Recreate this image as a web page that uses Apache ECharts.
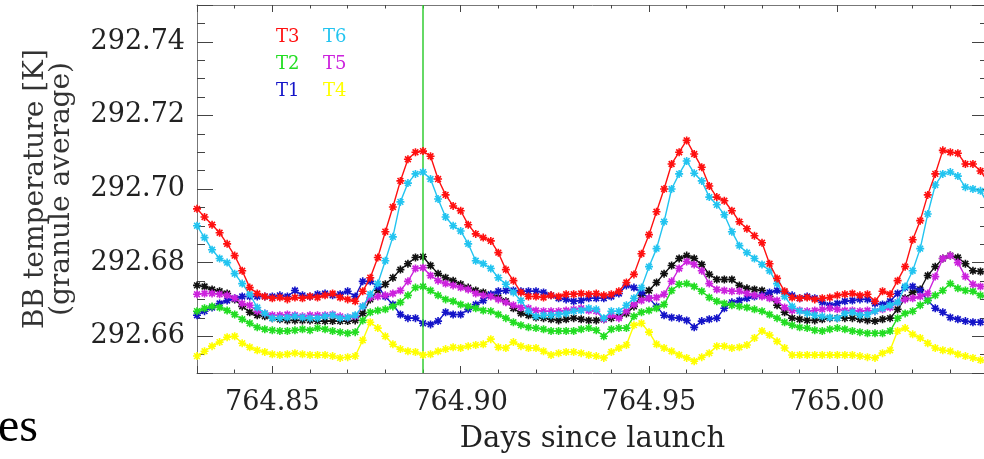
<!DOCTYPE html>
<html>
<head>
<meta charset="utf-8">
<script src="https://cdn.jsdelivr.net/npm/echarts@6/dist/echarts.min.js"></script>
<style>
html,body{margin:0;padding:0;background:#fff;overflow:hidden;}
#chart{width:992px;height:459px;}
</style>
</head>
<body>
<div id="chart"></div>
<script>
// ---- data ----
const days = [764.830,764.832,764.834,764.836,764.838,764.840,764.842,764.844,764.846,764.848,
764.850,764.852,764.854,764.856,764.858,764.860,764.862,764.864,764.866,764.868,
764.870,764.872,764.874,764.876,764.878,764.880,764.882,764.884,764.886,764.888,
764.890,764.892,764.894,764.896,764.898,764.900,764.902,764.904,764.906,764.908,
764.910,764.912,764.914,764.916,764.918,764.920,764.922,764.924,764.926,764.928,
764.930,764.932,764.934,764.936,764.938,764.940,764.942,764.944,764.946,764.948,
764.950,764.952,764.954,764.956,764.958,764.960,764.962,764.964,764.966,764.968,
764.970,764.972,764.974,764.976,764.978,764.980,764.982,764.984,764.986,764.988,
764.990,764.992,764.994,764.996,764.998,765.000,765.002,765.004,765.006,765.008,
765.010,765.012,765.014,765.016,765.018,765.020,765.022,765.024,765.026,765.028,
765.030,765.032,765.034,765.036,765.038,765.040];

const t3 = [292.6946,292.6924,292.6903,292.6881,292.6851,292.6819,292.6778,292.6732,292.6716,292.6708,
292.6703,292.6705,292.6700,292.6705,292.6703,292.6708,292.6705,292.6711,292.6716,292.6705,
292.6700,292.6695,292.6722,292.6759,292.6814,292.6884,292.6951,292.7022,292.7081,292.7100,
292.7103,292.7089,292.7027,292.6984,292.6954,292.6941,292.6903,292.6878,292.6868,292.6859,
292.6827,292.6781,292.6751,292.6719,292.6708,292.6708,292.6705,292.6711,292.6708,292.6714,
292.6714,292.6716,292.6714,292.6716,292.6711,292.6714,292.6722,292.6746,292.6768,292.6824,
292.6876,292.6938,292.7000,292.7068,292.7100,292.7132,292.7095,292.7059,292.7008,292.6978,
292.6968,292.6941,292.6911,292.6892,292.6873,292.6854,292.6797,292.6757,292.6722,292.6705,
292.6703,292.6705,292.6700,292.6703,292.6705,292.6711,292.6714,292.6716,292.6711,292.6714,
292.6695,292.6722,292.6714,292.6751,292.6789,292.6862,292.6914,292.6984,292.7041,292.7105,
292.7100,292.7097,292.7068,292.7068,292.7049,292.7019];

const t6 = [292.6900,292.6868,292.6835,292.6811,292.6800,292.6770,292.6743,292.6714,292.6678,292.6662,
292.6649,292.6649,292.6651,292.6654,292.6651,292.6649,292.6649,292.6654,292.6657,292.6649,
292.6651,292.6657,292.6681,292.6714,292.6743,292.6805,292.6870,292.6965,292.7016,292.7041,
292.7046,292.7027,292.6973,292.6924,292.6900,292.6886,292.6851,292.6805,292.6797,292.6784,
292.6759,292.6741,292.6719,292.6697,292.6668,292.6654,292.6657,292.6657,292.6659,292.6662,
292.6668,292.6670,292.6676,292.6673,292.6649,292.6668,292.6668,292.6684,292.6703,292.6732,
292.6789,292.6838,292.6911,292.7000,292.7041,292.7076,292.7043,292.7022,292.6978,292.6957,
292.6930,292.6884,292.6846,292.6827,292.6811,292.6795,292.6778,292.6743,292.6708,292.6681,
292.6668,292.6662,292.6657,292.6654,292.6651,292.6649,292.6662,292.6665,292.6657,292.6659,
292.6668,292.6676,292.6684,292.6692,292.6735,292.6778,292.6838,292.6932,292.7011,292.7041,
292.7046,292.7035,292.7005,292.7000,292.6995,292.6959];

const tAvg = [292.6738,292.6735,292.6727,292.6722,292.6716,292.6700,292.6681,292.6665,292.6657,292.6654,
292.6649,292.6646,292.6643,292.6643,292.6643,292.6643,292.6641,292.6641,292.6641,292.6641,
292.6641,292.6643,292.6662,292.6700,292.6724,292.6741,292.6759,292.6781,292.6797,292.6814,
292.6816,292.6792,292.6770,292.6759,292.6751,292.6741,292.6732,292.6724,292.6719,292.6711,
292.6705,292.6695,292.6676,292.6662,292.6657,292.6651,292.6649,292.6646,292.6643,292.6646,
292.6649,292.6646,292.6643,292.6643,292.6646,292.6649,292.6654,292.6662,292.6681,292.6711,
292.6724,292.6746,292.6770,292.6792,292.6811,292.6819,292.6811,292.6795,292.6768,292.6754,
292.6754,292.6754,292.6738,292.6730,292.6727,292.6724,292.6708,292.6684,292.6665,292.6649,
292.6646,292.6643,292.6643,292.6646,292.6649,292.6649,292.6649,292.6649,292.6646,292.6643,
292.6641,292.6646,292.6649,292.6673,292.6703,292.6719,292.6727,292.6765,292.6789,292.6811,
292.6819,292.6814,292.6797,292.6778,292.6776,292.6773];

const t5 = [292.6714,292.6716,292.6716,292.6714,292.6711,292.6703,292.6689,292.6684,292.6668,292.6662,
292.6657,292.6657,292.6659,292.6657,292.6654,292.6657,292.6657,292.6657,292.6659,292.6654,
292.6651,292.6654,292.6681,292.6705,292.6708,292.6711,292.6716,292.6724,292.6749,292.6784,
292.6786,292.6765,292.6751,292.6743,292.6738,292.6732,292.6727,292.6716,292.6711,292.6708,
292.6700,292.6692,292.6684,292.6678,292.6676,292.6670,292.6668,292.6668,292.6668,292.6670,
292.6673,292.6676,292.6670,292.6668,292.6646,292.6657,292.6649,292.6668,292.6686,292.6697,
292.6703,292.6705,292.6714,292.6749,292.6784,292.6803,292.6795,292.6778,292.6743,292.6727,
292.6724,292.6722,292.6722,292.6716,292.6711,292.6708,292.6703,292.6697,292.6678,292.6670,
292.6670,292.6668,292.6670,292.6673,292.6676,292.6673,292.6670,292.6670,292.6668,292.6670,
292.6668,292.6673,292.6678,292.6692,292.6700,292.6703,292.6708,292.6716,292.6762,292.6811,
292.6819,292.6800,292.6762,292.6741,292.6735,292.6735];

const t2 = [292.6668,292.6676,292.6681,292.6678,292.6670,292.6659,292.6646,292.6635,292.6624,292.6619,
292.6616,292.6614,292.6614,292.6616,292.6619,292.6616,292.6622,292.6619,292.6614,292.6611,
292.6608,292.6611,292.6643,292.6665,292.6670,292.6673,292.6681,292.6692,292.6711,292.6732,
292.6735,292.6724,292.6711,292.6700,292.6695,292.6686,292.6681,292.6676,292.6670,292.6668,
292.6659,292.6649,292.6638,292.6630,292.6624,292.6622,292.6619,292.6614,292.6614,292.6614,
292.6614,292.6619,292.6622,292.6616,292.6600,292.6619,292.6622,292.6622,292.6654,292.6665,
292.6670,292.6676,292.6686,292.6724,292.6741,292.6743,292.6735,292.6722,292.6705,292.6695,
292.6689,292.6684,292.6681,292.6678,292.6673,292.6668,292.6659,292.6649,292.6638,292.6630,
292.6624,292.6622,292.6616,292.6614,292.6619,292.6622,292.6619,292.6614,292.6611,292.6608,
292.6608,292.6608,292.6614,292.6649,292.6662,292.6668,292.6684,292.6697,292.6711,292.6724,
292.6743,292.6730,292.6724,292.6722,292.6711,292.6705];

const t1 = [292.6657,292.6668,292.6678,292.6689,292.6697,292.6703,292.6708,292.6708,292.6708,292.6708,
292.6708,292.6711,292.6708,292.6724,292.6711,292.6708,292.6714,292.6716,292.6711,292.6714,
292.6722,292.6708,292.6749,292.6749,292.6735,292.6708,292.6686,292.6659,292.6649,292.6649,
292.6635,292.6632,292.6641,292.6665,292.6659,292.6659,292.6673,292.6686,292.6697,292.6714,
292.6722,292.6724,292.6724,292.6722,292.6722,292.6722,292.6719,292.6711,292.6703,292.6700,
292.6695,292.6697,292.6703,292.6703,292.6703,292.6708,292.6716,292.6738,292.6732,292.6719,
292.6703,292.6681,292.6657,292.6651,292.6649,292.6643,292.6624,292.6641,292.6646,292.6649,
292.6676,292.6692,292.6697,292.6703,292.6708,292.6711,292.6719,292.6724,292.6719,292.6711,
292.6703,292.6708,292.6703,292.6692,292.6684,292.6689,292.6695,292.6697,292.6700,292.6700,
292.6689,292.6686,292.6695,292.6716,292.6732,292.6735,292.6724,292.6697,292.6676,292.6665,
292.6651,292.6646,292.6641,292.6638,292.6638,292.6638];

const t4 = [292.6546,292.6559,292.6573,292.6584,292.6597,292.6600,292.6581,292.6570,292.6562,292.6557,
292.6551,292.6549,292.6551,292.6554,292.6551,292.6549,292.6549,292.6549,292.6546,292.6541,
292.6543,292.6546,292.6589,292.6638,292.6622,292.6600,292.6578,292.6565,292.6559,292.6557,
292.6549,292.6551,292.6559,292.6565,292.6570,292.6568,292.6573,292.6576,292.6578,292.6592,
292.6570,292.6568,292.6584,292.6573,292.6568,292.6568,292.6559,292.6549,292.6554,292.6557,
292.6557,292.6554,292.6549,292.6546,292.6541,292.6557,292.6568,292.6576,292.6630,292.6635,
292.6611,292.6578,292.6568,292.6559,292.6549,292.6541,292.6532,292.6543,292.6554,292.6573,
292.6573,292.6568,292.6570,292.6576,292.6595,292.6614,292.6603,292.6586,292.6568,292.6549,
292.6549,292.6549,292.6549,292.6549,292.6549,292.6549,292.6549,292.6549,292.6546,292.6543,
292.6541,292.6554,292.6562,292.6614,292.6622,292.6605,292.6595,292.6581,292.6568,292.6562,
292.6559,292.6551,292.6546,292.6541,292.6535,292.6530];

const markerDay = 764.8894;
const xMin = 764.83, xMax = 765.04;
const yMin = 292.65, yMax = 292.75;

const legendCol1 = ['T3', 'T2', 'T1'];
const legendCol2 = ['T6', 'T5', 'T4'];
const seriesDefs = [
  {name: 'avg', values: tAvg, color: '#111111'},
  {name: 'T1', values: t1, color: '#1414c8'},
  {name: 'T2', values: t2, color: '#22dd22'},
  {name: 'T4', values: t4, color: '#ffff00'},
  {name: 'T5', values: t5, color: '#cc22dd'},
  {name: 'T6', values: t6, color: '#22c4f0'},
  {name: 'T3', values: t3, color: '#ff1010'}
];
// ---- chart ----
const colorOf = {};
seriesDefs.forEach(s => colorOf[s.name] = s.color);
const serif = '"DejaVu Serif", "Liberation Serif", serif';
const star = 'path://M5 0V10M0 5H10M1.4 1.4L8.6 8.6M8.6 1.4L1.4 8.6';

function xAxisCfg(pos, showLabel) {
  return {
    type: 'value', position: pos, min: xMin, max: xMax, splitNumber: 4,
    splitLine: {show: false},
    axisLine: {show: true, onZero: false, lineStyle: {color: '#777', width: 1}},
    axisTick: {show: true, inside: true, length: 7, lineStyle: {color: '#444'}},
    minorTick: {show: true, splitNumber: 5, length: 3.5, lineStyle: {color: '#444'}},
    axisLabel: {show: showLabel, formatter: v => v.toFixed(2), showMinLabel: false, showMaxLabel: false,
      fontFamily: serif, fontSize: 27, color: '#222', margin: 16},
    name: showLabel ? 'Days since launch' : '',
    nameLocation: 'middle', nameGap: 52,
    nameTextStyle: {fontFamily: serif, fontSize: 29, color: '#222'}
  };
}
function yAxisCfg(pos, showLabel) {
  return {
    type: 'value', position: pos, min: yMin, max: yMax, splitNumber: 5,
    splitLine: {show: false},
    axisLine: {show: true, onZero: false, lineStyle: {color: '#777', width: 1}},
    axisTick: {show: true, inside: true, length: 16, lineStyle: {color: '#444'}},
    minorTick: {show: true, splitNumber: 4, length: 8, lineStyle: {color: '#444'}},
    axisLabel: {show: showLabel, formatter: v => v.toFixed(2), showMinLabel: false, showMaxLabel: false,
      fontFamily: serif, fontSize: 27, color: '#222', margin: 12},
    name: showLabel ? 'BB temperature [K]\n(granule average)' : '',
    nameLocation: 'middle', nameRotate: 90, nameGap: 122,
    nameTextStyle: {fontFamily: serif, fontSize: 28, lineHeight: 26, color: '#333', align: 'center'}
  };
}
function legendCfg(names, left) {
  return {
    show: true, orient: 'vertical', left: left, top: 28, padding: 0,
    icon: 'none', itemWidth: 1, itemHeight: 18, itemGap: 9, selectedMode: false,
    textStyle: {fontFamily: serif, fontSize: 18, lineHeight: 18},
    data: names.map(n => ({name: n, textStyle: {color: colorOf[n]}}))
  };
}

const series = seriesDefs.map((s, k) => ({
  name: s.name, type: 'line',
  data: days.map((d, i) => [d, s.values[i]]),
  symbol: star, symbolSize: 8, showSymbol: true,
  lineStyle: {color: s.color, width: 1.4},
  itemStyle: {color: s.color, borderColor: s.color, borderWidth: 1.6},
  emphasis: {disabled: true}, silent: true, z: 2 + k,
  markLine: k === 0 ? {
    silent: true, symbol: ['none', 'none'], label: {show: false},
    lineStyle: {color: '#33cc33', width: 1.5, type: 'solid'},
    emphasis: {disabled: true},
    data: [{xAxis: markerDay}]
  } : undefined
}));

const chart = echarts.init(document.getElementById('chart'), null, {renderer: 'canvas'});
chart.setOption({
  animation: false,
  backgroundColor: '#fff',
  grid: {left: 197, top: 5, right: 4, bottom: 84, containLabel: false},
  xAxis: [xAxisCfg('bottom', true), xAxisCfg('top', false)],
  yAxis: [yAxisCfg('left', true), yAxisCfg('right', false)],
  legend: [legendCfg(legendCol1, 270), legendCfg(legendCol2, 317)],
  tooltip: {show: false},
  series: series,
  graphic: [{
    type: 'text', left: -2, top: 404,
    style: {text: 'es', font: '48px "Liberation Serif"', fill: '#000'}
  }]
});
</script>
</body>
</html>
